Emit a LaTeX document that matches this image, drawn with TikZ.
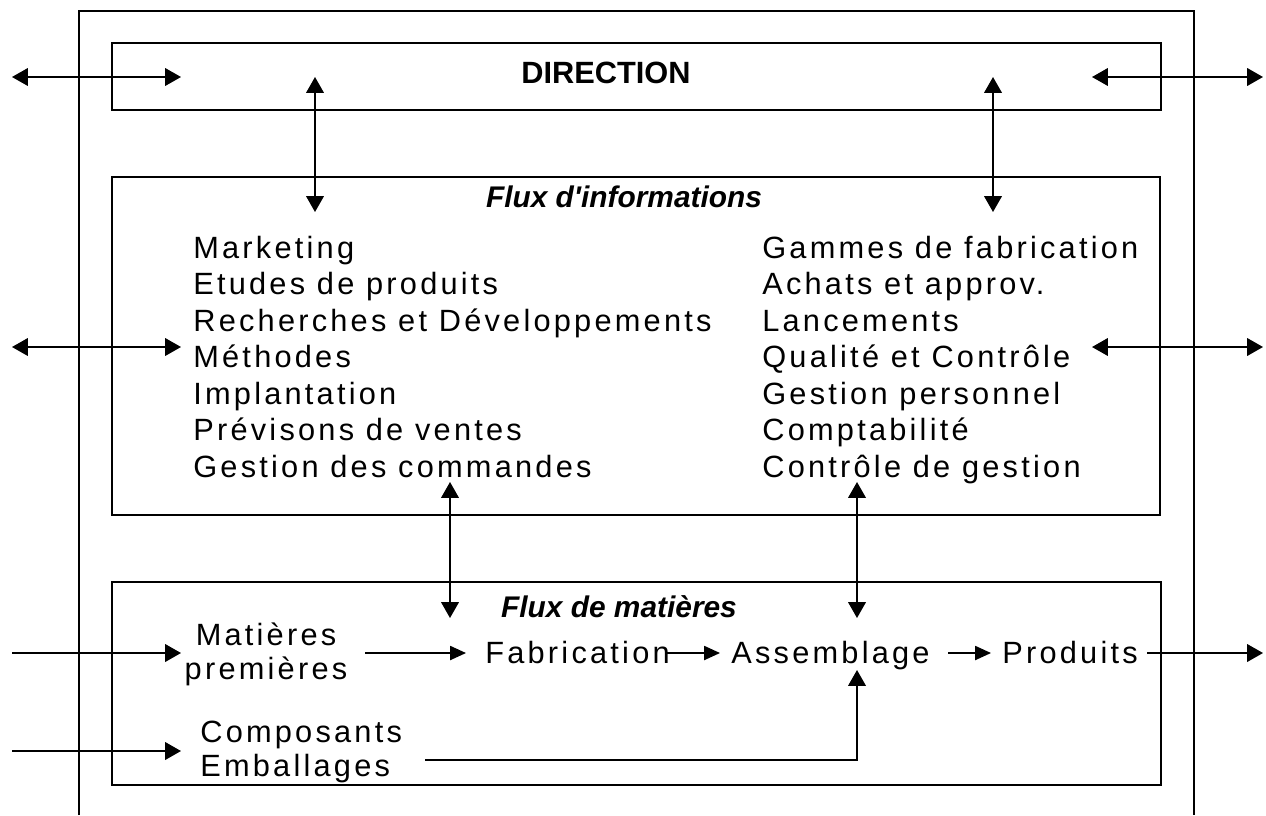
\documentclass[tikz,border=0pt]{standalone}
\usepackage{fontspec}
\setmainfont{Liberation Sans}
\newfontfamily\spacedfont{Liberation Sans}[LetterSpace=10.5]
\newfontfamily\titlefont{Liberation Sans}
\usetikzlibrary{arrows.meta}

\begin{document}
\begin{tikzpicture}[
  x=0.02cm, y=-0.02cm,
  box/.style={draw, line width=1pt, inner sep=0pt, outer sep=0pt},
  item/.style={font=\fontsize{17.5}{20}\spacedfont, inner sep=0pt, anchor=base west},
  ctitem/.style={font=\fontsize{17.5}{20}\spacedfont, inner sep=0pt, anchor=base},
  heading/.style={font=\fontsize{17}{20}\titlefont\bfseries\itshape, inner sep=0pt, anchor=base},
  link/.style={line width=0.9pt},
  both/.style={link, {Triangle[length=9pt,width=10pt]}-{Triangle[length=9pt,width=10pt]}},
  into/.style={link, -{Triangle[length=9pt,width=10pt]}},
  small/.style={link, -{Triangle[length=9pt,width=8pt]}}
]
\useasboundingbox (0,0) rectangle (1266,815);

% outer frame, open at the bottom
\draw[line width=1pt] (79,815) |- (1194,11) -- (1194,815);

% the three boxes
\node[box, minimum width=20.98cm, minimum height=1.34cm] (dirbox) at (636.5,76.5) {};
\node[box, minimum width=20.96cm, minimum height=6.76cm] (infobox) at (636,346) {};
\node[box, minimum width=20.98cm, minimum height=4.06cm] (matbox) at (636.5,683.5) {};

% titles
\node[font=\fontsize{17.5}{20}\titlefont\bfseries, inner sep=0pt, anchor=base] (direction) at (606,83) {DIRECTION};
\node[heading] (fluxinfo) at (624,207) {Flux d'informations};
\node[heading] (fluxmat) at (619,617) {Flux de mati\`eres};

% information flows, two columns
\foreach \t [count=\i from 0] in {Marketing, Etudes de produits, Recherches et D\'eveloppements,
    M\'ethodes, Implantation, Pr\'evisons de ventes, Gestion des commandes}
  \node[item] (left\i) at (193,258+36.5*\i) {\t};
\foreach \t [count=\i from 0] in {Gammes de fabrication, Achats et approv., Lancements,
    Qualit\'e et Contr\^ole, Gestion personnel, Comptabilit\'e, Contr\^ole de gestion}
  \node[item] (right\i) at (762,258+36.5*\i) {\t};

% material flows
\node[ctitem] (mp1) at (266,645) {Mati\`eres};
\node[ctitem] (mp2) at (266,679) {premi\`eres};
\node[item] (fab) at (485,663) {Fabrication};
\node[item] (ass) at (731,663) {Assemblage};
\node[item] (prod) at (1002,663) {Produits};
\node[item] (comp) at (200,742) {Composants};
\node[item] (emb) at (200,776) {Emballages};

% free ends of the connectors
\coordinate (dirL1) at (12,77);   \coordinate (dirL2) at (181,77);
\coordinate (dirR1) at (1092,77); \coordinate (dirR2) at (1263,77);
\coordinate (infL1) at (12,347);  \coordinate (infL2) at (181,347);
\coordinate (infR1) at (1092,347);\coordinate (infR2) at (1263,347);
\coordinate (vA1) at (315,77);    \coordinate (vA2) at (315,212);
\coordinate (vB1) at (993,77);    \coordinate (vB2) at (993,212);
\coordinate (vC1) at (450,482);   \coordinate (vC2) at (450,618);
\coordinate (vD1) at (857,482);   \coordinate (vD2) at (857,618);
\coordinate (inMP1) at (12,653);  \coordinate (inMP2) at (181,653);
\coordinate (inCE1) at (12,751);  \coordinate (inCE2) at (181,751);
\coordinate (mpOut) at (365,653); \coordinate (fabIn) at (466,653);
\coordinate (fabOut) at (665,653);\coordinate (assIn) at (720,653);
\coordinate (assOut) at (948,653);\coordinate (prodIn) at (991,653);
\coordinate (prodOut) at (1147,653); \coordinate (outP) at (1263,653);
\coordinate (embOut) at (425,760); \coordinate (assBot) at (857,670);

% connectors
\draw[both] (dirL1) -- (dirL2);
\draw[both] (dirR1) -- (dirR2);
\draw[both] (infL1) -- (infL2);
\draw[both] (infR1) -- (infR2);
\draw[both] (vA1) -- (vA2);
\draw[both] (vB1) -- (vB2);
\draw[both] (vC1) -- (vC2);
\draw[both] (vD1) -- (vD2);
\draw[into] (inMP1) -- (inMP2);
\draw[into] (inCE1) -- (inCE2);
\draw[small] (mpOut) -- (fabIn);
\draw[small] (fabOut) -- (assIn);
\draw[small] (assOut) -- (prodIn);
\draw[into] (prodOut) -- (outP);
\draw[into] (embOut) -| (assBot);
\end{tikzpicture}
\end{document}
